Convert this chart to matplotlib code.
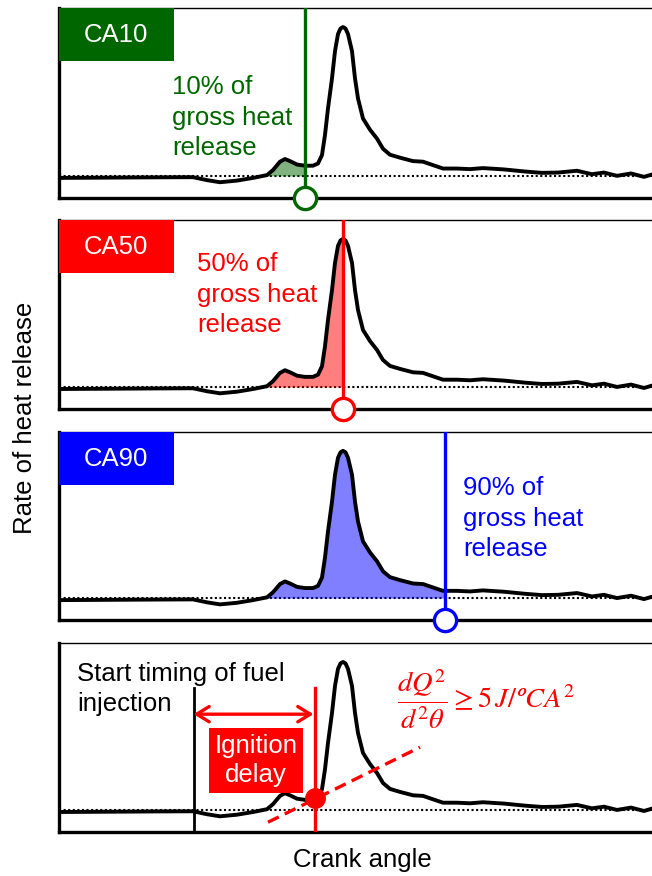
import numpy as np
import matplotlib
matplotlib.use("Agg")
import matplotlib.pyplot as plt
from matplotlib.patches import Rectangle

plt.rcParams['font.family'] = ['Liberation Sans', 'DejaVu Sans']
plt.rcParams['mathtext.fontset'] = 'stix'

# ---------------- data ----------------
crank_angle = np.array([-25.0, -20.0, -15.0, -11.55, -10.15, -8.85, -7.15, -5.55, -4.15,
                        -3.55, -2.85, -2.35, -1.85, -1.15, -0.35, 0.45, 0.95, 1.35, 1.65,
                        1.95, 2.35, 2.65, 2.95, 3.2, 3.45, 3.7, 3.95, 4.35, 4.65, 4.95,
                        5.45, 6.15, 6.85, 7.45, 8.15, 9.15, 10.45, 11.45, 12.45, 13.45,
                        14.85, 16.15, 17.45, 19.55, 21.65, 23.35, 24.95, 26.85, 28.35,
                        29.55, 30.85, 32.25, 33.55, 34.45])
heat_release = np.array([-1.4, -1.2, -1.0, -0.9, -2.9, -4.3, -3.2, -1.4, 0.5,
                         3.9, 9.5, 11.3, 9.9, 7.6, 6.8, 6.8, 8.3, 14.0, 27.5,
                         45.3, 65.5, 83.8, 95.3, 99.0, 100.0, 99.0, 95.3, 83.8, 65.5, 52.0,
                         38.5, 31.0, 25.0, 18.2, 14.2, 12.2, 9.9, 9.5, 7.2, 4.9,
                         4.9, 4.5, 5.2, 4.3, 2.9, 2.0, 2.2, 3.4, 1.1,
                         2.2, 0.0, 1.6, -0.7, 1.1])

panel_labels = ['CA10', 'CA50', 'CA90']
panel_colors = ['#006600', '#ff0000', '#0000ff']
panel_texts = ['10% of\ngross heat\nrelease', '50% of\ngross heat\nrelease', '90% of\ngross heat\nrelease']
ca_values = [-0.35, 3.45, 13.65]
combustion_start = -4.3

soi_angle = -11.5         # start of fuel injection
ignition_angle = 0.65     # ignition point
ignition_value = 8.1
tangent_x = [-4.05, 11.15]
tangent_y = [-8.3, 42.4]

XLIM = (-25.0, 34.35)
YLIM = (-14.9, 112.8)

# ---------------- figure ----------------
W, H = 652, 876
fig = plt.figure(figsize=(W / 100, H / 100), dpi=100)
FS = 18.5

left = 58.5 / W
width = 1.0 - left
panel_px = [(8, 198), (220, 409), (432, 620), (643, 832)]
axes = []
for top, bot in panel_px:
    ax = fig.add_axes([left, 1 - bot / H, width, (bot - top) / H])
    ax.set_xlim(*XLIM)
    ax.set_ylim(*YLIM)
    ax.set_xticks([])
    ax.set_yticks([])
    ax.spines['right'].set_visible(False)
    ax.spines['left'].set_linewidth(2.4)
    ax.spines['bottom'].set_linewidth(2.4)
    ax.spines['top'].set_linewidth(1.0)
    ax.axhline(0, color='black', lw=1.5, ls=(0, (1, 1.2)), zorder=2)
    ax.plot(crank_angle, heat_release, color='black', lw=2.8,
            solid_joinstyle='round', solid_capstyle='round', zorder=4)
    axes.append(ax)

text_pos = [(172, 155), (197, 332), (463, 556)]
for i in range(3):
    ax = axes[i]
    col = panel_colors[i]
    ca = ca_values[i]
    # shaded area
    mask = (crank_angle > combustion_start) & (crank_angle < ca)
    xs = np.concatenate([[combustion_start], crank_angle[mask], [ca]])
    ys = np.concatenate([[0.0], heat_release[mask],
                         [np.interp(ca, crank_angle, heat_release)]])
    ax.fill_between(xs, ys, 0, color=col, alpha=0.5, lw=0, zorder=3)
    # vertical line + circle
    ax.axvline(ca, color=col, lw=2.4, zorder=5)
    ax.plot([ca], [YLIM[0]], 'o', ms=16, mfc='white', mec=col, mew=2.4,
            clip_on=False, zorder=6)
    # label box
    ax.add_patch(Rectangle((0, 1 - 53 / 189), 115 / 593.5, 53 / 189,
                           transform=ax.transAxes, color=col, zorder=6, lw=0))
    ax.text(57 / 593.5, 1 - 27 / 189, panel_labels[i], transform=ax.transAxes,
            color='white', fontsize=FS, ha='center', va='center', zorder=7)
    # annotation text
    tx, ty = text_pos[i]
    fig.text(tx / W, 1 - ty / H, panel_texts[i], color=col, fontsize=FS,
             ha='left', va='baseline', linespacing=1.34, multialignment='left')

# ---------------- panel 4 ----------------
ax = axes[3]
top_val = 82.4
ax.plot([soi_angle, soi_angle], [YLIM[0], top_val], color='black', lw=2.0, zorder=5)
ax.plot([ignition_angle, ignition_angle], [YLIM[0], top_val], color='red', lw=2.4, zorder=5)
ax.plot(tangent_x, tangent_y, color='red', lw=2.4, ls=(0, (3.6, 2.0)), zorder=5)
ax.plot([ignition_angle], [ignition_value], 'o', color='red', ms=14, zorder=6)
ax.annotate('', xy=(soi_angle, 64.7), xytext=(ignition_angle - 0.15, 64.7),
            arrowprops=dict(arrowstyle='<->,head_length=0.9,head_width=0.55',
                            color='red', lw=2.4, shrinkA=0, shrinkB=0), zorder=6)
ax.add_patch(Rectangle((-9.95, 11.5), 9.4, 43.9, color='red', lw=0, zorder=6))
ax.text(-5.25, 33.5, 'Ignition\ndelay', color='white', fontsize=FS,
        ha='center', va='center', linespacing=1.25, zorder=7)
fig.text(77 / W, 1 - 711 / H, 'Start timing of fuel\ninjection', color='black',
         fontsize=FS, ha='left', va='baseline', linespacing=1.34)
ax.text(8.85, 75, r'$\dfrac{dQ^{2}}{d^{2}\theta}\geq 5\,J/ºCA^{2}$', color='red',
        fontsize=20.5, ha='left', va='center', zorder=7)

fig.text(25 / W, 1 - 418 / H, 'Rate of heat release', rotation=90, fontsize=FS,
         ha='center', va='center')
fig.text(362 / W, 1 - 860 / H, 'Crank angle', fontsize=FS, ha='center', va='center')

fig.savefig('out.png', dpi=100)
